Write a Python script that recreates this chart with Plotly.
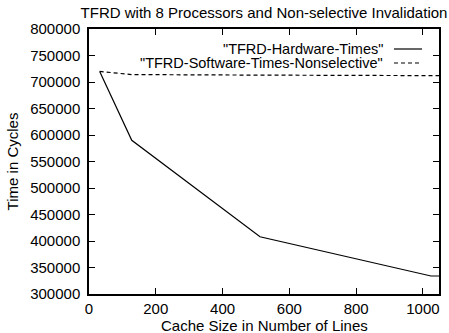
import plotly.graph_objects as go

cache_sizes = [32, 128, 512, 1024, 1048]
hardware_times = [720000, 590000, 408000, 334000, 334000]
software_sizes = [32, 128, 512, 1024, 1048]
software_times = [720000, 714000, 713000, 712500, 712000]

x_ticks = [0, 200, 400, 600, 800, 1000]
y_ticks = [300000, 350000, 400000, 450000, 500000, 550000, 600000, 650000, 700000, 750000, 800000]

FONT = "Liberation Sans, Arial, sans-serif"
FS = 15

fig = go.Figure()
fig.add_trace(go.Scatter(x=cache_sizes, y=hardware_times, mode="lines",
                         line=dict(color="black", width=1.2), showlegend=False))
fig.add_trace(go.Scatter(x=software_sizes, y=software_times, mode="lines",
                         line=dict(color="black", width=1.2, dash="4px,3px"), showlegend=False))

axis_common = dict(showgrid=False, zeroline=False, showline=True, linecolor="black", linewidth=1.5,
                   mirror="ticks", ticks="inside", ticklen=6, tickcolor="black", tickwidth=1.2,
                   automargin=False,
                   tickfont=dict(family=FONT, size=FS, color="black"))

fig.update_xaxes(range=[0, 1048], tickvals=x_ticks, ticktext=[str(v) for v in x_ticks],
                 ticklabelstandoff=0, **axis_common)
fig.update_yaxes(range=[300000, 800000], tickvals=y_ticks, ticktext=[str(v) for v in y_ticks],
                 ticklabelstandoff=4,
                 title=dict(text="Time in Cycles", font=dict(family=FONT, size=FS, color="black"), standoff=8),
                 **axis_common)

W, H = 449, 333
ml, mr, mt, mb = 89, 10, 29, 39
pw, ph = W - ml - mr, H - mt - mb

# x-axis title as an annotation placed just under the tick labels
fig.add_annotation(x=0.5, y=-(325 - (H - mb)) / ph, xref="paper", yref="paper",
                   text="Cache Size in Number of Lines", showarrow=False, xanchor="center", yanchor="middle",
                   borderpad=0, font=dict(family=FONT, size=FS, color="black"))

# gnuplot-style key: right-aligned text followed by a line sample
legend_items = [("\"TFRD-Hardware-Times\"", "solid", 49), ("\"TFRD-Software-Times-Nonselective\"", "4px,3px", 63)]
for text, dash, ypx in legend_items:
    yp = 1 - (ypx - mt) / ph
    fig.add_annotation(x=(384 - ml) / pw, y=yp, xref="paper", yref="paper", text=text, showarrow=False,
                       xanchor="right", yanchor="middle", borderpad=0,
                       font=dict(family=FONT, size=14.5, color="black"))
    fig.add_shape(type="line", xref="paper", yref="paper", x0=(394 - ml) / pw, x1=(422 - ml) / pw,
                  y0=yp, y1=yp, line=dict(color="black", width=1.2, dash=dash))

fig.update_layout(
    width=W, height=H,
    margin=dict(l=ml, r=mr, t=mt, b=mb),
    paper_bgcolor="white", plot_bgcolor="white",
    title=dict(text="TFRD with 8 Processors and Non-selective Invalidation", x=(ml + pw / 2) / W, xanchor="center",
               y=1 - 13 / H, yanchor="middle", font=dict(family=FONT, size=FS, color="black")),
    font=dict(family=FONT, size=FS, color="black"),
)

fig.write_html("out.html")
